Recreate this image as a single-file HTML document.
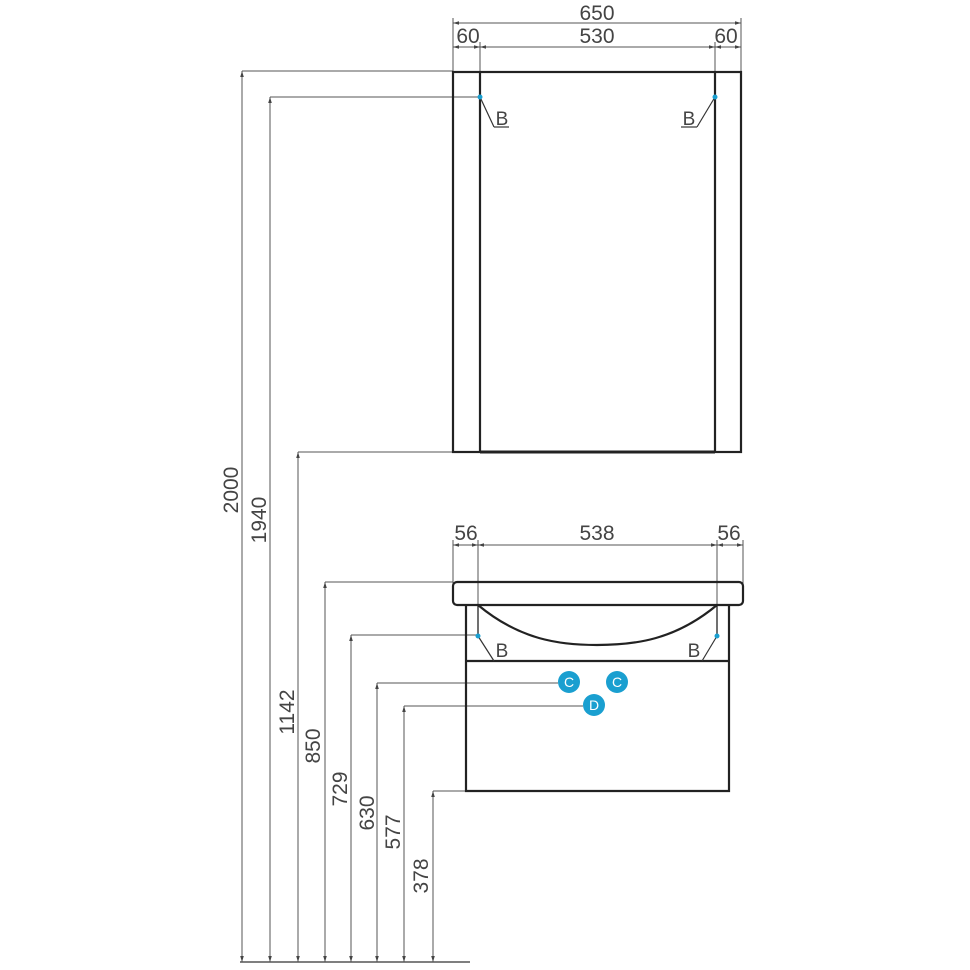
<!DOCTYPE html>
<html><head><style>body{margin:0;background:#fff}svg{display:block}</style></head><body>
<svg width="970" height="970" viewBox="0 0 970 970" xmlns="http://www.w3.org/2000/svg" font-family="Liberation Sans, sans-serif">
<defs>
<marker id="a" viewBox="0 0 10 10" refX="10" refY="5" markerWidth="6" markerHeight="6" orient="auto-start-reverse"><path d="M0,2 L10,5 L0,8 z" fill="#444"/></marker>
</defs>
<g stroke="#555" stroke-width="1" fill="none">
<line x1="242" y1="71" x2="242" y2="962" marker-start="url(#a)" marker-end="url(#a)"/>
<line x1="242" y1="71" x2="453" y2="71"/>
<line x1="270" y1="97" x2="270" y2="962" marker-start="url(#a)" marker-end="url(#a)"/>
<line x1="270" y1="97" x2="480" y2="97"/>
<line x1="298" y1="452" x2="298" y2="962" marker-start="url(#a)" marker-end="url(#a)"/>
<line x1="298" y1="452" x2="453" y2="452"/>
<line x1="325" y1="582" x2="325" y2="962" marker-start="url(#a)" marker-end="url(#a)"/>
<line x1="325" y1="582" x2="453" y2="582"/>
<line x1="351" y1="635" x2="351" y2="962" marker-start="url(#a)" marker-end="url(#a)"/>
<line x1="351" y1="635" x2="478" y2="635"/>
<line x1="377" y1="683" x2="377" y2="962" marker-start="url(#a)" marker-end="url(#a)"/>
<line x1="377" y1="683" x2="558" y2="683"/>
<line x1="404" y1="706" x2="404" y2="962" marker-start="url(#a)" marker-end="url(#a)"/>
<line x1="404" y1="706" x2="583" y2="706"/>
<line x1="433" y1="791" x2="433" y2="962" marker-start="url(#a)" marker-end="url(#a)"/>
<line x1="433" y1="791" x2="466" y2="791"/>
<line x1="240" y1="962" x2="470" y2="962" stroke-width="1.5"/>
<line x1="453" y1="18" x2="453" y2="72"/>
<line x1="741" y1="18" x2="741" y2="72"/>
<line x1="453" y1="23" x2="741" y2="23" marker-start="url(#a)" marker-end="url(#a)"/>
<line x1="480" y1="42" x2="480" y2="72"/>
<line x1="715" y1="42" x2="715" y2="72"/>
<line x1="453" y1="47" x2="480" y2="47" marker-start="url(#a)" marker-end="url(#a)"/>
<line x1="480" y1="47" x2="715" y2="47" marker-start="url(#a)" marker-end="url(#a)"/>
<line x1="715" y1="47" x2="741" y2="47" marker-start="url(#a)" marker-end="url(#a)"/>
<line x1="453" y1="540" x2="453" y2="585"/>
<line x1="743" y1="540" x2="743" y2="585"/>
<line x1="478" y1="540" x2="478" y2="605"/>
<line x1="717" y1="540" x2="717" y2="605"/>
<line x1="453" y1="545" x2="478" y2="545" marker-start="url(#a)" marker-end="url(#a)"/>
<line x1="478" y1="545" x2="717" y2="545" marker-start="url(#a)" marker-end="url(#a)"/>
<line x1="717" y1="545" x2="743" y2="545" marker-start="url(#a)" marker-end="url(#a)"/>
</g>
<g stroke="#222" stroke-width="2.2" fill="none">
<rect x="453" y="72" width="288" height="380"/>
<line x1="480" y1="72" x2="480" y2="452"/>
<line x1="715" y1="72" x2="715" y2="452"/>
<line x1="480" y1="452" x2="715" y2="452" stroke-width="3"/>
<rect x="453" y="582" width="290" height="23" rx="4"/>
<polyline points="466,605 466,791 729,791 729,605"/>
<line x1="466" y1="661" x2="729" y2="661"/>
<line x1="478" y1="605" x2="478" y2="635" stroke-width="1.3"/>
<line x1="717" y1="605" x2="717" y2="635" stroke-width="1.3"/>
<path d="M478,605 C520,640 560,645 597,645 C635,645 675,640 717,605"/>
</g>
<g stroke="#333" stroke-width="1.2" fill="none">
<line x1="480" y1="97" x2="494" y2="127"/><line x1="494" y1="127" x2="509" y2="127"/>
<line x1="715" y1="97" x2="697" y2="127"/><line x1="681" y1="127" x2="697" y2="127"/>
<line x1="478" y1="636" x2="494" y2="661"/>
<line x1="717" y1="636" x2="702" y2="661"/>
</g>
<g fill="#1a9fd0">
<circle cx="480" cy="97" r="2.5"/><circle cx="715" cy="97" r="2.5"/>
<circle cx="478" cy="636" r="2.5"/><circle cx="717" cy="636" r="2.5"/>
<circle cx="569" cy="682" r="11"/><circle cx="617" cy="682" r="11"/><circle cx="594" cy="705" r="11"/>
</g>
<g fill="#fff" font-size="14" text-anchor="middle">
<text x="569" y="687">C</text><text x="617" y="687">C</text><text x="594" y="710">D</text>
</g>
<g fill="#444" font-size="21" text-anchor="middle">
<text x="597" y="20">650</text>
<text x="468" y="43">60</text>
<text x="597" y="43">530</text>
<text x="726" y="43">60</text>
<text x="466" y="540">56</text>
<text x="597" y="540">538</text>
<text x="729" y="540">56</text>
<text x="502" y="125" font-size="19">B</text>
<text x="689" y="125" font-size="19">B</text>
<text x="502" y="657" font-size="19">B</text>
<text x="694" y="657" font-size="19">B</text>
<text transform="translate(238,490) rotate(-90)">2000</text>
<text transform="translate(266,520) rotate(-90)">1940</text>
<text transform="translate(294,712) rotate(-90)">1142</text>
<text transform="translate(320,746) rotate(-90)">850</text>
<text transform="translate(347,789) rotate(-90)">729</text>
<text transform="translate(374,813) rotate(-90)">630</text>
<text transform="translate(400,832) rotate(-90)">577</text>
<text transform="translate(428,876) rotate(-90)">378</text>
</g>
</svg>
</body></html>
